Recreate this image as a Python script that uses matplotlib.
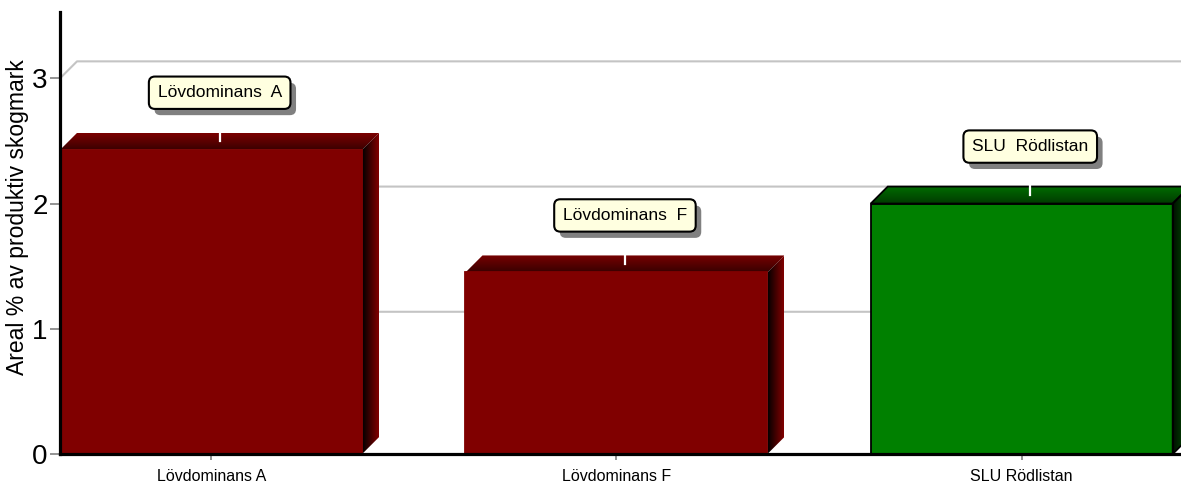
import numpy as np
import matplotlib.pyplot as plt
from matplotlib.patches import Polygon, Rectangle
from matplotlib.colors import LinearSegmentedColormap
import matplotlib.patheffects as pe

plt.rcParams['font.family'] = ['Liberation Sans', 'DejaVu Sans']

# data
categories = ['Lövdominans A', 'Lövdominans F', 'SLU Rödlistan']
box_labels = ['Lövdominans  A', 'Lövdominans  F', 'SLU  Rödlistan']
values = [2.43, 1.45, 2.0]
yticks = [0, 1, 2, 3]

face_colors = ['#800000', '#800000', '#008000']
top_front = ['#3a0000', '#3a0000', '#003a00']
top_back = ['#7a0000', '#7a0000', '#006a00']
side_dark = ['#000000', '#000000', '#001000']
side_light = ['#800000', '#800000', '#006000']
edge_colors = ['#800000', '#800000', '#000000']

W, H = 1181, 487
fig = plt.figure(figsize=(W / 100, H / 100), dpi=100)
ax = fig.add_axes([60 / W, 33 / H, 1121 / W, 442 / H])
x0, x1 = -0.373, 2.393
y0, y1 = 0, 3.53
# depth offset of the fake 3d, 17 px each way
DX = 17 * (x1 - x0) / 1121
DY = 17 * (y1 - y0) / 442
PXY = (y1 - y0) / 442
BW = 0.745

# back gridlines
for g in yticks[1:]:
    ax.plot([x0, x0 + DX, x1], [g, g + DY, g + DY], color='#c4c4c4', lw=1.5, zorder=1)

for i, v in enumerate(values):
    xl, xr = i - BW / 2, i + BW / 2
    z = 2 + i
    front = Rectangle((xl, 0), BW, v, fc=face_colors[i], ec=edge_colors[i], lw=1.3, zorder=z + 0.5)
    ax.add_patch(front)

    top = Polygon([(xl, v), (xl + DX, v + DY), (xr + DX, v + DY), (xr, v)],
                  fc='none', ec='none', zorder=z)
    ax.add_patch(top)
    cm = LinearSegmentedColormap.from_list('t%d' % i, [top_front[i], top_back[i]])
    im = ax.imshow(np.linspace(0, 1, 50).reshape(-1, 1), cmap=cm, origin='lower',
                   extent=[xl, xr + DX, v, v + DY], aspect='auto', zorder=z,
                   interpolation='bilinear')
    im.set_clip_path(top)

    side = Polygon([(xr, 0), (xr + DX, DY), (xr + DX, v + DY), (xr, v)],
                   fc='none', ec='none', zorder=z)
    ax.add_patch(side)
    cm = LinearSegmentedColormap.from_list('s%d' % i, [side_dark[i], side_light[i]])
    im = ax.imshow(np.linspace(0, 1, 50).reshape(1, -1), cmap=cm, origin='lower',
                   extent=[xr, xr + DX, 0, v + DY], aspect='auto', zorder=z,
                   interpolation='bilinear')
    im.set_clip_path(side)

    if edge_colors[i] == '#000000':
        for poly in [top, side]:
            ax.add_patch(Polygon(poly.get_xy(), fill=False, ec='black', lw=1.3, zorder=z + 0.6))

    # callout
    cx = i + DX / 2
    by = v + DY + 40 * PXY
    ax.plot([cx, cx], [by, v + DY / 2], color='white', lw=1.6, zorder=z + 0.7)
    t = ax.text(cx, by, box_labels[i], ha='center', va='center', fontsize=12.5, zorder=20,
                bbox=dict(boxstyle='round,pad=0.5,rounding_size=0.35', fc='#ffffe0',
                          ec='black', lw=1.5))
    t.get_bbox_patch().set_path_effects([
        pe.SimplePatchShadow(offset=(4, -4.5), shadow_rgbFace='#808080', alpha=1.0),
        pe.Normal()])

ax.set_xlim(x0, x1)
ax.set_ylim(y0, y1)
ax.set_xticks(range(len(categories)), categories, fontsize=11.5)
ax.set_yticks(yticks)
ax.tick_params(axis='x', length=4.5, width=1.2, color='#808080', pad=6)
ax.tick_params(axis='y', length=7, width=1.2, color='#808080', pad=2, labelsize=20)
for s in ['top', 'right']:
    ax.spines[s].set_visible(False)
for s in ['left', 'bottom']:
    ax.spines[s].set_linewidth(2.3)
    ax.spines[s].set_zorder(30)

fig.text(18 / W, (487 - 217) / H, 'Areal % av produktiv skogmark', rotation=90,
         ha='center', va='center', fontsize=16.5)

fig.savefig('out.png', dpi=100)
